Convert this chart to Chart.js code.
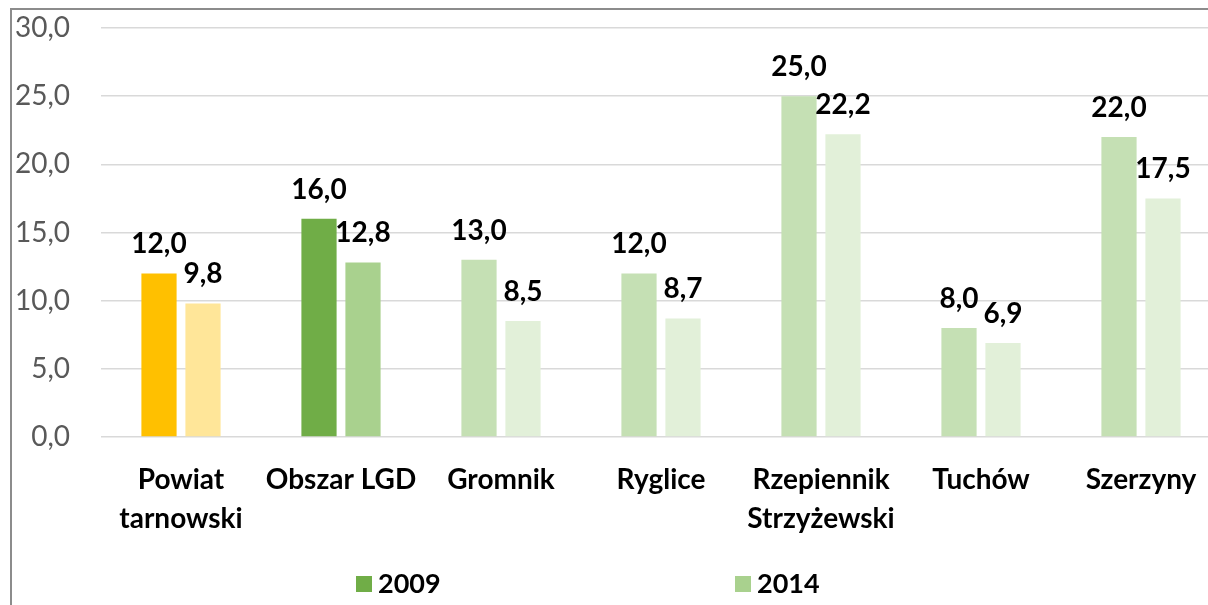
<!DOCTYPE html>
<html>
<head>
<meta charset="utf-8">
<script src="https://cdn.jsdelivr.net/npm/chart.js@4.4.1/dist/chart.umd.min.js"></script>
<style>
    html, body { margin: 0; padding: 0; background: #fff; overflow: hidden; }
    #wrap { position: relative; width: 1221px; height: 605px; }
    #frame {
        position: absolute; left: 10px; top: 8px; right: -20px; bottom: -20px;
        border-top: 2px solid #8c8c8c; border-left: 2px solid #8c8c8c;
        pointer-events: none;
    }
    .legend-item { position: absolute; top: 569px; font: bold 27px Lato, sans-serif; line-height: 28px; color: #000; }
    .legend-box { position: absolute; top: 576px; width: 16px; height: 16px; }
</style>
</head>
<body>
<div id="wrap">
    <canvas id="barChart" width="1221" height="605"></canvas>
    <div id="frame"></div>
    <div id="legend"></div>
</div>
<script>
// categories (multi-line labels)
const categories = [
    ['Powiat', 'tarnowski'],
    ['Obszar LGD'],
    ['Gromnik'],
    ['Ryglice'],
    ['Rzepiennik', 'Strzyżewski'],
    ['Tuchów'],
    ['Szerzyny']
];
const seriesNames = ['2009', '2014'];
const values2009 = [12.0, 16.0, 13.0, 12.0, 25.0, 8.0, 22.0];
const values2014 = [9.8, 12.8, 8.5, 8.7, 22.2, 6.9, 17.5];
const yTicks = [0, 5, 10, 15, 20, 25, 30];

// colours per bar
const colors2009 = ['#FFC000', '#70AD47', '#C5E0B4', '#C5E0B4', '#C5E0B4', '#C5E0B4', '#C5E0B4'];
const colors2014 = ['#FFE699', '#A9D18E', '#E2F0D9', '#E2F0D9', '#E2F0D9', '#E2F0D9', '#E2F0D9'];
const legendColors = ['#70AD47', '#A9D18E'];
const legendBoxX = [356, 735];

function formatPl(v) {
    return Number(v).toFixed(1).replace('.', ',');
}

// draws the value above every bar
const barValueLabels = {
    id: 'barValueLabels',
    afterDatasetsDraw(chart) {
        const ctx = chart.ctx;
        ctx.save();
        ctx.font = 'bold 28px Lato';
        ctx.fillStyle = '#000';
        ctx.textAlign = 'center';
        ctx.textBaseline = 'alphabetic';
        chart.data.datasets.forEach(function (ds, i) {
            chart.getDatasetMeta(i).data.forEach(function (bar, j) {
                ctx.fillText(formatPl(ds.data[j]), bar.x, bar.y - 20);
            });
        });
        ctx.restore();
    }
};

function buildLegend() {
    const legend = document.getElementById('legend');
    for (let i = 0; i < seriesNames.length; i++) {
        const box = document.createElement('div');
        box.className = 'legend-box';
        box.style.left = legendBoxX[i] + 'px';
        box.style.background = legendColors[i];
        legend.appendChild(box);

        const txt = document.createElement('div');
        txt.className = 'legend-item';
        txt.style.left = (legendBoxX[i] + 22) + 'px';
        txt.textContent = seriesNames[i];
        legend.appendChild(txt);
    }
}

function createChart() {
    const ctx = document.getElementById('barChart');
    new Chart(ctx, {
        type: 'bar',
        data: {
            labels: categories,
            datasets: [
                {
                    label: seriesNames[0],
                    data: values2009,
                    backgroundColor: colors2009,
                    categoryPercentage: 0.55,
                    barPercentage: 0.8
                },
                {
                    label: seriesNames[1],
                    data: values2014,
                    backgroundColor: colors2014,
                    categoryPercentage: 0.55,
                    barPercentage: 0.8
                }
            ]
        },
        options: {
            responsive: false,
            animation: false,
            layout: { padding: { top: 28, left: 0, right: 0, bottom: 0 } },
            plugins: {
                legend: { display: false },
                tooltip: { enabled: false }
            },
            scales: {
                x: {
                    grid: { display: false, drawTicks: false },
                    border: { display: false },
                    ticks: {
                        color: '#000',
                        padding: 24,
                        font: { family: 'Lato', size: 28, weight: 'bold', lineHeight: 1.37 },
                        maxRotation: 0,
                        autoSkip: false
                    },
                    afterFit: function (scale) { scale.height = 168; }
                },
                y: {
                    min: 0,
                    max: 30,
                    afterBuildTicks: function (scale) {
                        scale.ticks = yTicks.map(function (v) { return { value: v }; });
                    },
                    grid: { color: '#d9d9d9', lineWidth: 1.5, drawTicks: false },
                    border: { display: false },
                    ticks: {
                        color: '#595959',
                        padding: 31,
                        font: { family: 'Lato', size: 28 },
                        callback: function (value) { return formatPl(value); }
                    },
                    afterFit: function (scale) {
                        scale.width = 101;
                        // tick padding is only meant horizontally here
                        scale.paddingTop = 17;
                        scale.paddingBottom = 17;
                    }
                }
            }
        },
        plugins: [barValueLabels]
    });
}

buildLegend();
document.fonts.load('bold 28px Lato').then(function () {
    return document.fonts.load('28px Lato');
}).then(createChart, createChart);
</script>
</body>
</html>
